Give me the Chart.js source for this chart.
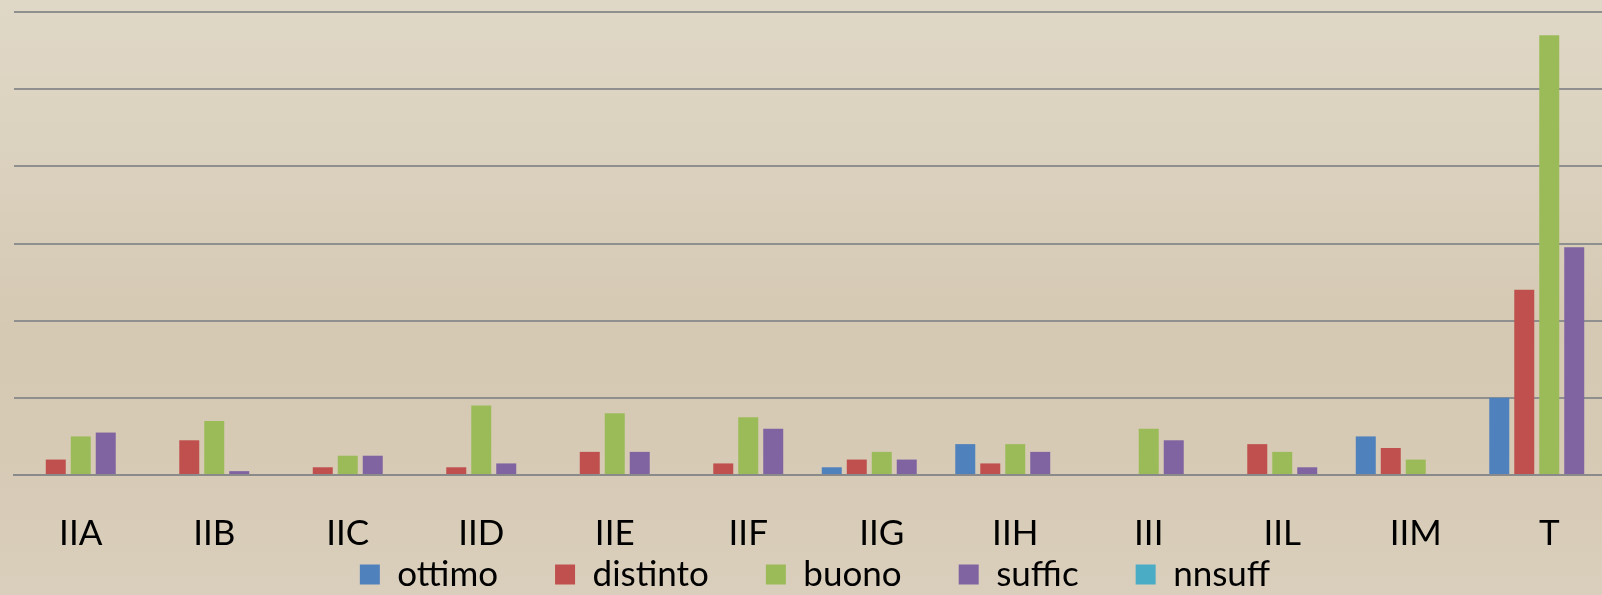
<!DOCTYPE html>
<html>
<head>
<meta charset="utf-8">
<script src="https://cdn.jsdelivr.net/npm/chart.js@4/dist/chart.umd.min.js"></script>
<style>
    html, body {
        margin: 0;
        padding: 0;
        width: 1602px;
        height: 595px;
        overflow: hidden;
    }
    body {
        background: linear-gradient(to bottom, #e0d8c7 0%, #dad0bd 30%, #d5c9b3 55%, #d6cab5 75%, #dacfbc 100%);
    }
    #wrap {
        position: absolute;
        left: 0;
        top: 0;
        width: 1620px;
        height: 595px;
    }
</style>
</head>
<body>
<div id="wrap"><canvas id="classChart"></canvas></div>
<script>
// Categories (classes) and grade counts per series
const classes = ['IIA', 'IIB', 'IIC', 'IID', 'IIE', 'IIF', 'IIG', 'IIH', 'III', 'IIL', 'IIM', 'T'];
const ottimo   = [0, 0, 0, 0, 0, 0, 2, 8, 0, 0, 10, 20];
const distinto = [4, 9, 2, 2, 6, 3, 4, 3, 0, 8, 7, 48];
const buono    = [10, 14, 5, 18, 16, 15, 6, 8, 12, 6, 4, 114];
const suffic   = [11, 1, 5, 3, 6, 12, 4, 6, 9, 2, 0, 59];
const nnsuff   = [0, 0, 0, 0, 0, 0, 0, 0, 0, 0, 0, 0];
const yTicks = [0, 20, 40, 60, 80, 100, 120];

const fontFamily = 'Lato, "Open Sans", sans-serif';

function makeSet(label, data, color) {
    return {
        label: label,
        data: data,
        backgroundColor: color,
        borderWidth: 0,
        barPercentage: 0.8,
        categoryPercentage: 0.936
    };
}

const ctx = document.getElementById('classChart');

new Chart(ctx, {
    type: 'bar',
    data: {
        labels: classes,
        datasets: [
            makeSet('ottimo', ottimo, '#4f81bd'),
            makeSet('distinto', distinto, '#c0504d'),
            makeSet('buono', buono, '#9bbb59'),
            makeSet('suffic', suffic, '#8064a2'),
            makeSet('nnsuff', nnsuff, '#4bacc6')
        ]
    },
    options: {
        responsive: true,
        maintainAspectRatio: false,
        animation: false,
        layout: {
            // legend is wide-spaced, so let its empty lower part run off the canvas
            padding: { left: 14, right: 4, top: 12, bottom: -7 }
        },
        plugins: {
            legend: {
                position: 'bottom',
                labels: {
                    color: '#000',
                    font: { family: fontFamily, size: 35 },
                    boxWidth: 20,
                    boxHeight: 20,
                    padding: 57
                }
            },
            tooltip: { enabled: false }
        },
        scales: {
            x: {
                grid: { display: false, drawTicks: false },
                border: { display: true, color: '#8a8a8a', width: 2 },
                ticks: {
                    color: '#000',
                    font: { family: fontFamily, size: 35 },
                    // mirrored labels are not clipped, so they can hang
                    // below the thin axis box into the legend's padding
                    mirror: true,
                    padding: -80,
                    maxRotation: 0
                },
                afterFit: scale => { scale.height = 25; }
            },
            y: {
                min: yTicks[0],
                max: yTicks[yTicks.length - 1],
                afterBuildTicks: axis => {
                    axis.ticks = yTicks.map(v => ({ value: v }));
                },
                ticks: { display: false },
                grid: {
                    color: '#8f8f8f',
                    lineWidth: 2,
                    drawTicks: false
                },
                border: { display: false }
            }
        }
    }
});
</script>
</body>
</html>
